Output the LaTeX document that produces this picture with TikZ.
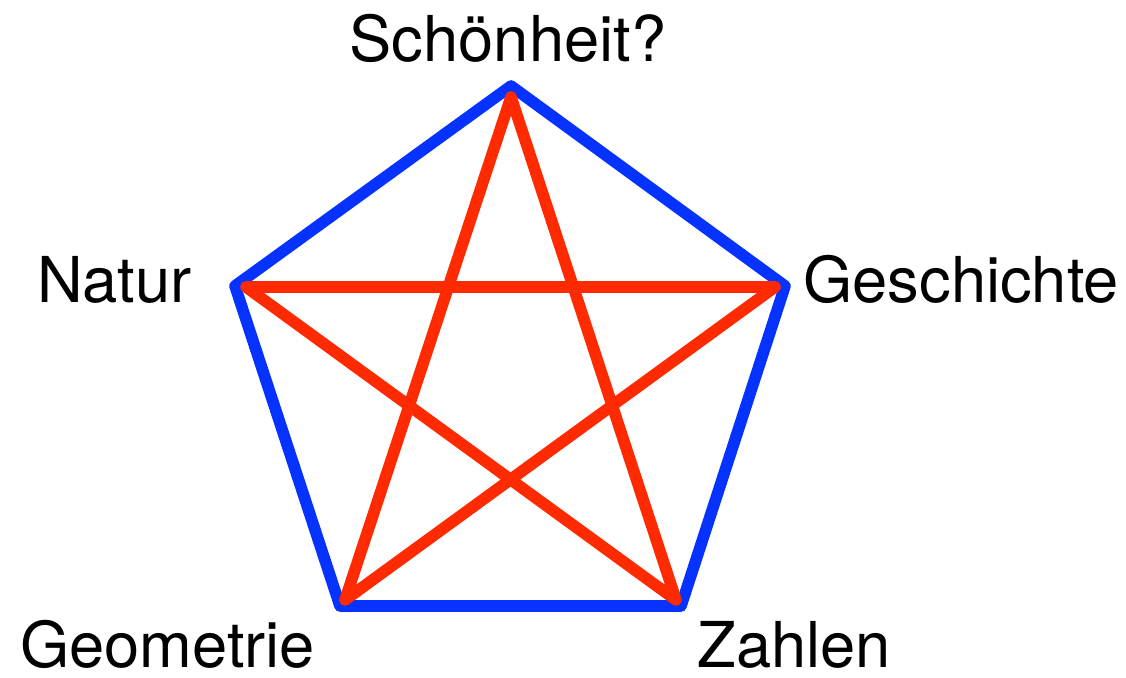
\documentclass[tikz,border=0pt]{standalone}
\usepackage{fontspec}
\setmainfont{TeX Gyre Heros}
\usepackage{xcolor}
\usepackage{tikz}

\definecolor{penta}{RGB}{5,50,255}
\definecolor{stern}{RGB}{255,42,0}

\begin{document}
\begin{tikzpicture}[
  font=\fontsize{36}{40}\selectfont,
  lbl/.style={inner sep=0pt},
  edge/.style={line width=6.6pt, line join=round, line cap=round},
  rand/.style={edge, draw=penta},
  zacke/.style={edge, draw=stern}
]
\useasboundingbox (0,0) rectangle (22.52,13.54);

% Ecken des Fuenfecks
\coordinate (top) at (10.22, 11.82);
\coordinate (left) at (4.70, 7.82);
\coordinate (right) at (15.70, 7.82);
\coordinate (bl) at (6.80, 1.42);
\coordinate (br) at (13.62, 1.42);

% Ecken des Sterns
\coordinate (stop) at (10.22, 11.60);
\coordinate (sleft) at (4.92, 7.80);
\coordinate (sright) at (15.50, 7.80);
\coordinate (sbl) at (6.90, 1.54);
\coordinate (sbr) at (13.52, 1.54);

% Beschriftungen
\node[lbl, anchor=base] (schoen) at (10.16, 12.30) {Schönheit?};
\node[lbl, anchor=base east] (natur) at (3.84, 7.48) {Natur};
\node[lbl, anchor=base west] (gesch) at (16.06, 7.48) {Geschichte};
\node[lbl, anchor=base west] (geom) at (0.40, 0.20) {Geometrie};
\node[lbl, anchor=base west] (zahl) at (13.94, 0.20) {Zahlen};

% Fuenfeck
\draw[rand] (top) -- (right) -- (br) -- (bl) -- (left) -- cycle;

% Stern
\draw[zacke] (stop) -- (sbl) -- (sright) -- (sleft) -- (sbr) -- cycle;
\end{tikzpicture}
\end{document}
